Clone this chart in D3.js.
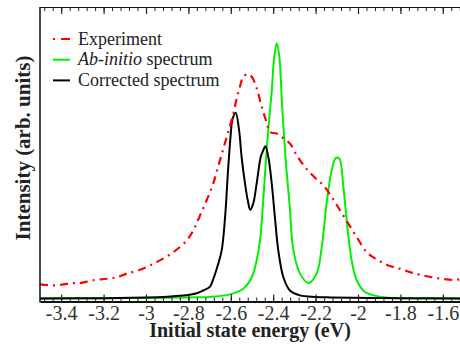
<!DOCTYPE html>
<html>
<head>
<meta charset="utf-8">
<script src="https://cdn.jsdelivr.net/npm/d3@7.9.0/dist/d3.min.js"></script>
<style>
  body { margin: 0; background: #fff; }
  svg { display: block; }
  text { font-family: "Liberation Serif", "DejaVu Serif", serif; }
</style>
</head>
<body>
<svg id="chart" width="460" height="345"></svg>
<script>
// Experiment (red dash-dot)
const expEnergy = [-3.5, -3.437, -3.39, -3.343, -3.311, -3.249, -3.185, -3.138, -3.091, -3.028,
  -2.95, -2.871, -2.808, -2.777, -2.745, -2.714, -2.683, -2.651, -2.619, -2.588,
  -2.572, -2.557, -2.541, -2.519, -2.501, -2.478, -2.454, -2.431, -2.415, -2.383,
  -2.352, -2.321, -2.289, -2.25, -2.195, -2.164, -2.124, -2.085, -2.046, -2.006,
  -1.959, -1.912, -1.857, -1.802, -1.755, -1.708, -1.652, -1.605, -1.55, -1.515];
const expIntensity = [5.5, 5.1, 5.5, 6.0, 6.0, 7.1, 7.7, 8.3, 9.7, 11.2,
  14.2, 18.1, 22.7, 26.6, 32.5, 38.4, 44.9, 54.1, 63.2, 72.3,
  78.3, 82.8, 86.7, 87.7, 86.7, 82.3, 74.9, 68.9, 65.1, 64.5,
  62.6, 60.6, 56.0, 51.4, 46.6, 44.3, 39.7, 34.5, 29.3, 24.0,
  18.1, 15.3, 12.9, 11.6, 10.3, 9.3, 8.3, 7.7, 7.2, 7.6];

// Ab-initio spectrum (green)
const abEnergy = [-3.5, -3.0, -2.8, -2.7, -2.604, -2.541, -2.501, -2.478, -2.462, -2.447,
  -2.431, -2.418, -2.407, -2.395, -2.383, -2.371, -2.358, -2.34, -2.322, -2.305,
  -2.274, -2.234, -2.195, -2.171, -2.148, -2.124, -2.104, -2.088, -2.069, -2.05,
  -2.03, -2.006, -1.967, -1.881, -1.723, -1.5];
const abIntensity = [0, 0.2, 0.4, 0.6, 1.6, 3.8, 8.3, 14.9, 22.7, 38.4,
  58.0, 71.0, 81.0, 94.5, 99.8, 94.5, 75.5, 53.0, 36.0, 19.0,
  9.8, 6.0, 9.8, 20.1, 37.2, 50.1, 55.0, 54.7, 43.6, 27.9,
  14.9, 7.1, 2.5, 0.5, 0, 0];

// Corrected spectrum (black)
const corEnergy = [-3.5, -3.2, -3.0, -2.9, -2.81, -2.76, -2.73, -2.7, -2.683, -2.665,
  -2.643, -2.627, -2.612, -2.6, -2.593, -2.577, -2.561, -2.549, -2.533, -2.52,
  -2.508, -2.494, -2.478, -2.459, -2.45, -2.437, -2.423, -2.407, -2.392, -2.376,
  -2.352, -2.321, -2.274, -2.2, -2.13, -1.95, -1.8, -1.5];
const corIntensity = [0, 0.1, 0.4, 0.7, 1.2, 2.0, 3.1, 4.4, 7.5, 12.0,
  18.8, 31.8, 51.4, 64.6, 69.7, 72.6, 65.8, 55.3, 45.0, 38.4,
  34.7, 37.2, 45.0, 55.3, 57.3, 59.5, 55.3, 45.0, 31.8, 18.8,
  8.3, 3.1, 1.2, 0.6, 0.4, 0.2, 0.1, 0];

const tickValues = [-3.4, -3.2, -3.0, -2.8, -2.6, -2.4, -2.2, -2.0, -1.8, -1.6];
const tickLabels = ["-3.4", "-3.2", "-3", "-2.8", "-2.6", "-2.4", "-2.2", "-2", "-1.8", "-1.6"];

const legendLabels = ["Experiment", "Ab-initio spectrum", "Corrected spectrum"];

const svg = d3.select("#chart");
const plotLeft = 40, plotRight = 464, plotTop = 7, plotBottom = 301.5;

const x = d3.scaleLinear().domain([-3.5, -1.5]).range([plotLeft, plotRight]);
const y = d3.scaleLinear().domain([-1.2, 114]).range([plotBottom, plotTop]);

svg.append("defs").append("clipPath").attr("id", "plot-clip")
  .append("rect")
  .attr("x", plotLeft).attr("y", plotTop)
  .attr("width", plotRight - plotLeft).attr("height", plotBottom - plotTop);

const line = d3.line()
  .x(d => x(d[0]))
  .y(d => y(d[1]))
  .curve(d3.curveCatmullRom.alpha(0.5));

const plot = svg.append("g").attr("clip-path", "url(#plot-clip)");

plot.append("path")
  .attr("d", line(d3.zip(abEnergy, abIntensity)))
  .attr("fill", "none")
  .attr("stroke", "#00f000")
  .attr("stroke-width", 2);

plot.append("path")
  .attr("d", line(d3.zip(corEnergy, corIntensity)))
  .attr("fill", "none")
  .attr("stroke", "#000")
  .attr("stroke-width", 2);

plot.append("path")
  .attr("d", line(d3.zip(expEnergy, expIntensity)))
  .attr("fill", "none")
  .attr("stroke", "#ff0000")
  .attr("stroke-width", 2.2)
  .attr("stroke-dasharray", "8,5,2,5");

// minor ticks every 0.04 eV
const minorTicks = d3.range(-3.48, -1.5, 0.04).map(v => +v.toFixed(2));

const bottomAxis = d3.axisBottom(x)
  .tickValues(tickValues)
  .tickFormat((d, i) => tickLabels[i])
  .tickSizeInner(-7)
  .tickSizeOuter(0)
  .tickPadding(4);

const gx = svg.append("g")
  .attr("transform", `translate(0,${plotBottom})`)
  .call(bottomAxis);
gx.select(".domain").attr("stroke", "#111").attr("stroke-width", 2);
gx.selectAll(".tick line").attr("stroke", "#222").attr("stroke-width", 1.2);
gx.selectAll(".tick text")
  .attr("fill", "#333")
  .attr("font-size", 20)
  .attr("font-family", "Liberation Serif, serif");

const gxMinor = svg.append("g")
  .attr("transform", `translate(0,${plotBottom})`)
  .call(d3.axisBottom(x).tickValues(minorTicks).tickSize(-4).tickFormat(""));
gxMinor.select(".domain").remove();
gxMinor.selectAll(".tick line").attr("stroke", "#222");

const topAxis = svg.append("g")
  .attr("transform", `translate(0,${plotTop})`)
  .call(d3.axisTop(x).tickValues(tickValues).tickSizeInner(-7).tickSizeOuter(0).tickFormat(""));
topAxis.select(".domain").attr("stroke", "#111").attr("stroke-width", 1.2);
topAxis.selectAll(".tick line").attr("stroke", "#222").attr("stroke-width", 1.2);

const topMinor = svg.append("g")
  .attr("transform", `translate(0,${plotTop})`)
  .call(d3.axisTop(x).tickValues(minorTicks).tickSize(-4).tickFormat(""));
topMinor.select(".domain").remove();
topMinor.selectAll(".tick line").attr("stroke", "#222");

svg.append("line")
  .attr("x1", plotLeft).attr("x2", plotLeft)
  .attr("y1", plotTop).attr("y2", plotBottom + 1)
  .attr("stroke", "#111")
  .attr("stroke-width", 1.5);

svg.append("text")
  .attr("x", (plotLeft + plotRight) / 2 - 2)
  .attr("y", 337)
  .attr("text-anchor", "middle")
  .attr("font-size", 20)
  .attr("font-weight", "bold")
  .attr("fill", "#222")
  .text("Initial state energy (eV)");

svg.append("text")
  .attr("transform", "translate(30,148) rotate(-90)")
  .attr("text-anchor", "middle")
  .attr("font-size", 21)
  .attr("font-weight", "bold")
  .attr("fill", "#222")
  .text("Intensity (arb. units)");

// legend
const legendColors = ["#ff0000", "#00f000", "#000"];
const legendDash = ["2,6,9", null, null];
const legend = svg.append("g");

legendLabels.forEach((label, i) => {
  const ly = 39 + i * 20.7;
  legend.append("line")
    .attr("x1", 53).attr("x2", 70)
    .attr("y1", ly).attr("y2", ly)
    .attr("stroke", legendColors[i])
    .attr("stroke-width", 2)
    .attr("stroke-dasharray", legendDash[i]);
  const t = legend.append("text")
    .attr("x", 78)
    .attr("y", ly + 5.5)
    .attr("font-size", 18)
    .attr("fill", "#222");
  if (i === 1) {
    t.append("tspan").attr("font-style", "italic").text("Ab-initio");
    t.append("tspan").text(" spectrum");
  } else {
    t.text(label);
  }
});
</script>
</body>
</html>
